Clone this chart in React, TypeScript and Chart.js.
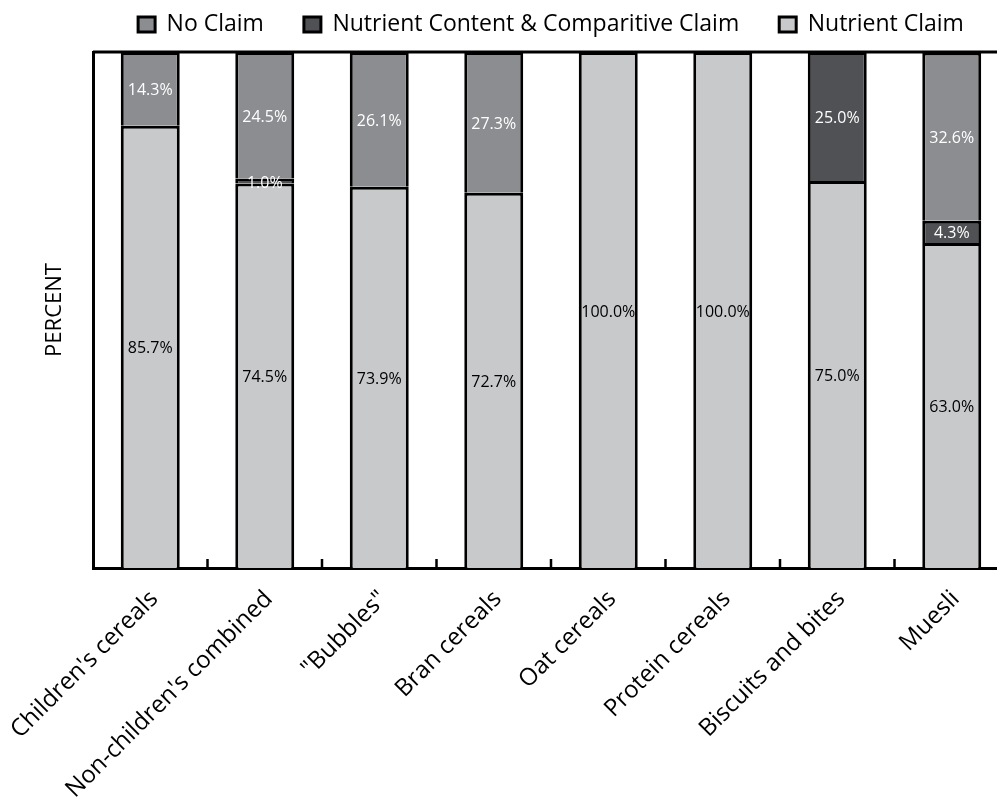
import React, { useEffect, useRef } from 'react';
import { Chart, registerables } from 'chart.js';

Chart.register(...registerables);

const categories = [
  "Children's cereals",
  "Non-children's combined",
  '"Bubbles"',
  'Bran cereals',
  'Oat cereals',
  'Protein cereals',
  'Biscuits and bites',
  'Muesli',
];

const nutrientClaim = [85.7, 74.5, 73.9, 72.7, 100.0, 100.0, 75.0, 63.0];
const contentComparitiveClaim = [0, 1.0, 0, 0, 0, 0, 25.0, 4.3];
const noClaim = [14.3, 24.5, 26.1, 27.3, 0, 0, 0, 32.6];

const seriesNames = ['Nutrient Claim', 'Nutrient Content & Comparitive Claim', 'No Claim'];
const seriesColors = ['#c8c9cb', '#505154', '#8c8d91'];
const labelColors = ['#000000', '#ffffff', '#ffffff'];

const FONT = '"Open Sans", "Noto Sans", sans-serif';

const segmentLabels = {
  id: 'segmentLabels',
  afterDatasetsDraw(chart: any) {
    const ctx = chart.ctx;
    ctx.save();
    ctx.font = `16px ${FONT}`;
    ctx.textAlign = 'center';
    ctx.textBaseline = 'middle';
    chart.data.datasets.forEach((ds: any, di: number) => {
      const meta = chart.getDatasetMeta(di);
      meta.data.forEach((bar: any, i: number) => {
        const v = ds.data[i];
        if (!v) return;
        const p = bar.getProps(['x', 'y', 'base'], true);
        ctx.fillStyle = labelColors[di];
        ctx.fillText(v.toFixed(1) + '%', p.x, (p.y + p.base) / 2 + 2);
      });
    });
    ctx.restore();
  },
};

const framePlugin = {
  id: 'frame',
  afterDraw(chart: any) {
    const { ctx, chartArea, scales } = chart;
    const x = scales.x;
    ctx.save();
    ctx.strokeStyle = '#000';
    ctx.lineWidth = 3;
    ctx.beginPath();
    ctx.moveTo(chartArea.left, chartArea.top);
    ctx.lineTo(chartArea.right, chartArea.top);
    ctx.stroke();
    ctx.lineWidth = 2.5;
    ctx.beginPath();
    for (let i = 0; i < categories.length - 1; i++) {
      const px = (x.getPixelForValue(i) + x.getPixelForValue(i + 1)) / 2;
      ctx.moveTo(px, chartArea.bottom);
      ctx.lineTo(px, chartArea.bottom - 9);
    }
    ctx.stroke();
    ctx.restore();
  },
};

export default function App() {
  const canvasRef = useRef<HTMLCanvasElement | null>(null);

  useEffect(() => {
    if (!canvasRef.current) return;
    Chart.defaults.font.family = FONT;
    Chart.defaults.color = '#000';
    const seriesData = [nutrientClaim, contentComparitiveClaim, noClaim];
    const chart = new Chart(canvasRef.current, {
      type: 'bar',
      data: {
        labels: categories,
        datasets: seriesNames.map((name, i) => ({
          label: name,
          data: seriesData[i],
          backgroundColor: seriesColors[i],
          borderColor: '#000',
          borderWidth: 3,
          barPercentage: 0.515,
          categoryPercentage: 1,
        })),
      },
      options: {
        animation: false,
        responsive: true,
        maintainAspectRatio: false,
        layout: { padding: { top: -27, left: 0, right: 1, bottom: 0 } },
        plugins: {
          legend: {
            display: true,
            position: 'top',
            fullSize: false,
            reverse: true,
            labels: {
              font: { size: 23, family: FONT },
              color: '#000',
              boxWidth: 17,
              boxHeight: 15,
              padding: 40,
            },
          },
          title: {
            display: true,
            text: '',
            weight: 500,
            fullSize: false,
            padding: 0,
            font: { size: 6, lineHeight: 1 },
          },
          tooltip: { enabled: false },
        },
        scales: {
          x: {
            stacked: true,
            grid: { display: false, drawTicks: false },
            border: { display: true, color: '#000', width: 3 },
            ticks: {
              autoSkip: false,
              minRotation: 45,
              maxRotation: 45,
              padding: 17,
              labelOffset: 4,
              color: '#000',
              font: { size: 24, family: FONT },
            },
            afterFit: (s: any) => {
              s.height = 237;
              s.paddingLeft = 0;
              s.paddingRight = 0;
            },
          },
          y: {
            stacked: true,
            min: 0,
            max: 100,
            grid: { display: false },
            border: { display: true, color: '#000', width: 3 },
            ticks: { display: false },
            title: {
              display: true,
              text: 'PERCENT',
              color: '#000',
              font: { size: 22, family: FONT },
              padding: { top: 42, bottom: 0 },
            },
            afterFit: (s: any) => {
              s.width = 93;
            },
          },
        },
      },
      plugins: [segmentLabels, framePlugin],
    } as any);
    return () => chart.destroy();
  }, []);

  return (
    <div style={{ position: 'absolute', left: 0, top: 0, width: 997, height: 805, overflow: 'hidden', background: '#fff' }}>
      <div style={{ position: 'relative', width: 1010, height: 805 }}>
        <canvas ref={canvasRef} />
      </div>
    </div>
  );
}
